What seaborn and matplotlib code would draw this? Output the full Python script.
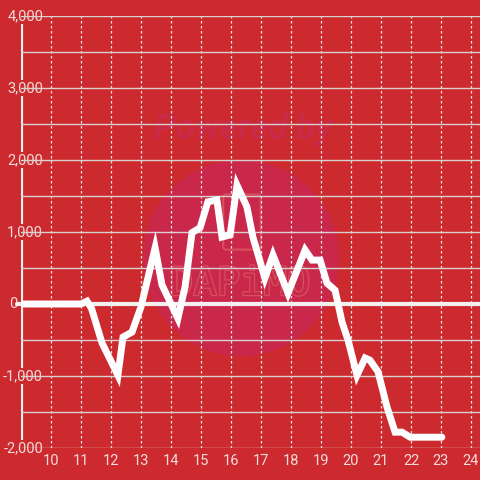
import matplotlib
matplotlib.use("Agg")
import matplotlib.pyplot as plt
import matplotlib.patheffects as pe
import seaborn as sns
import pandas as pd
from matplotlib.patches import Ellipse, FancyBboxPatch

# values
hours = [9.0, 11.0, 11.2, 11.35, 11.7, 12.23, 12.4, 12.7, 13.0, 13.47, 13.7,
         14.23, 14.47, 14.7, 14.97, 15.23, 15.53, 15.7, 15.97, 16.2, 16.53,
         16.73, 17.13, 17.4, 17.9, 18.47, 18.7, 18.97, 19.2, 19.47, 19.7,
         19.9, 20.2, 20.47, 20.63, 20.9, 21.2, 21.47, 21.7, 21.97, 23.03]
values = [0, 0, 40, -60, -540, -990, -460, -390, -40, 780, 265,
          -200, 240, 990, 1060, 1420, 1445, 930, 960, 1650, 1350,
          930, 360, 680, 150, 750, 610, 610, 290, 190, -250,
          -500, -990, -750, -780, -940, -1430, -1780, -1780, -1850, -1850]
x_ticks = list(range(10, 25))
y_ticks = [-2000, -1000, 0, 1000, 2000, 3000, 4000]
y_minor = [-1500, -500, 500, 1500, 2500, 3500]

bg = "#cc2a2e"
txt = "#f3dcdc"
W, H = 459, 432  # axes size in pixels

sns.set_theme(style="white")
plt.rcParams["font.family"] = ["Roboto", "DejaVu Sans"]

df = pd.DataFrame({"hour": hours, "value": values})

fig = plt.figure(figsize=(4.8, 4.8), dpi=100, facecolor=bg)
ax = fig.add_axes([21 / 480, 32 / 480, W / 480, H / 480])
ax.set_facecolor(bg)

# watermark
ax.add_patch(Ellipse((220 / W, 190 / H), 196 / W, 196 / H, transform=ax.transAxes,
                     facecolor="#c9284a", edgecolor="none", zorder=0.2))
ax.add_patch(FancyBboxPatch((205 / W, 201 / H), 32 / W, 50 / H, transform=ax.transAxes,
                            boxstyle="round,pad=0.006", facecolor="none",
                            edgecolor="#d6505e", lw=1.5, zorder=0.3))
ax.text(219 / W, 164 / H, "DAPiMO", transform=ax.transAxes, ha="center", va="center",
        fontsize=28, color="#c9284a", fontfamily="DejaVu Sans Mono", zorder=0.3,
        path_effects=[pe.withStroke(linewidth=1.8, foreground="#d6505e")])
ax.text(222 / W, 318 / H, "Powered by", transform=ax.transAxes, ha="center", va="center",
        fontsize=25, color="#c92a48", fontweight="bold", fontstyle="italic",
        zorder=0.3)

sns.lineplot(data=df, x="hour", y="value", color="white", lw=5,
             ax=ax, zorder=3, solid_joinstyle="miter")

ax.axvline(9.0, ymin=0, ymax=1 - 8 / H, color="#f4f0f0", lw=3, zorder=0.4)
ax.axhline(0, xmin=-4 / W, color="#f4f0f0", lw=3, zorder=1, clip_on=False)

ax.set_xlim(9, 24.3)
ax.set_ylim(-2000, 4000)
ax.set_xticks(x_ticks)
ax.set_yticks(y_ticks)
ax.set_yticks(y_minor, minor=True)
ax.set_yticklabels([])
ax.set_axisbelow(True)
ax.grid(axis="y", which="both", color="#d9d0d0", lw=1)
ax.grid(axis="x", which="major", color="#f0e6e6", lw=0.9, linestyle=(0, (2, 2)))
ax.tick_params(axis="y", which="both", length=0)
ax.tick_params(axis="x", length=0, pad=4, labelsize=10.5, labelcolor=txt)

# y labels sit over the axis line, zero label left of it
ytrans = ax.get_yaxis_transform()
for v in y_ticks:
    xr = -4 / W if v == 0 else 22 / W
    ax.text(xr, v, f"{v:,}", transform=ytrans, ha="right", va="center",
            fontsize=10.5, color=txt, clip_on=False, zorder=0.45,
            bbox=dict(facecolor=bg, edgecolor="none", pad=1))

for s in ax.spines.values():
    s.set_visible(False)
ax.set_xlabel("")
ax.set_ylabel("")
if ax.get_legend():
    ax.get_legend().remove()

fig.savefig("out.png", dpi=100, facecolor=bg)
